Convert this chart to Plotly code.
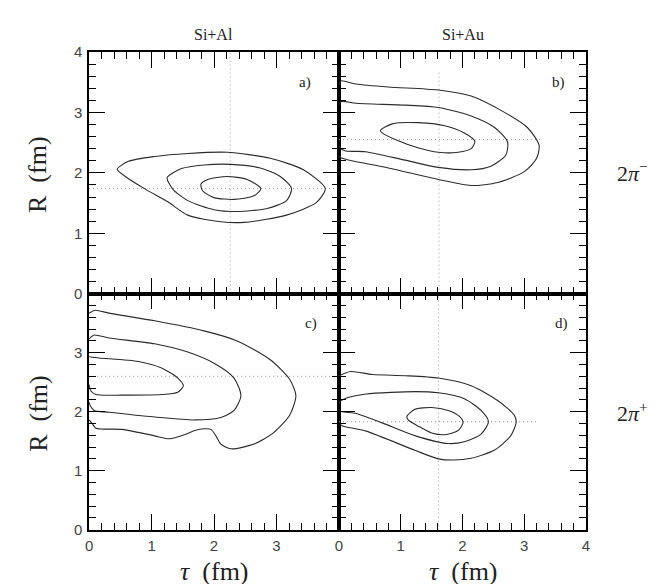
import plotly.graph_objects as go

# ---------------- data ----------------
# panel a : Si+Al, 2pi-
a_outer_tau = [0.45, 0.58, 0.90, 1.26, 1.58, 2.11, 2.48, 3.16, 3.64, 3.78, 3.43, 2.90, 2.21, 1.58, 1.05, 0.63, 0.45]
a_outer_R   = [2.06, 1.94, 1.73, 1.52, 1.30, 1.19, 1.18, 1.30, 1.51, 1.74, 2.05, 2.24, 2.34, 2.32, 2.27, 2.19, 2.06]
a_mid_tau = [1.25, 1.34, 1.58, 2.00, 2.37, 2.85, 3.16, 3.24, 3.06, 2.74, 2.27, 1.84, 1.48, 1.25]
a_mid_R   = [1.92, 1.73, 1.54, 1.39, 1.36, 1.41, 1.54, 1.74, 1.94, 2.08, 2.14, 2.13, 2.07, 1.92]
a_in_tau = [1.79, 1.82, 2.00, 2.32, 2.64, 2.75, 2.53, 2.21, 1.90, 1.79]
a_in_R   = [1.81, 1.70, 1.59, 1.56, 1.62, 1.74, 1.89, 1.94, 1.89, 1.81]

# panel b : Si+Au, 2pi-
b_outer_tau = [0.00, 0.03, 0.27, 0.80, 1.61, 2.14, 2.68, 3.05, 3.24, 3.20, 3.00, 2.57, 2.14, 1.61, 0.80, 0.21, 0.05, 0.00]
b_outer_R   = [3.45, 3.52, 3.47, 3.42, 3.37, 3.27, 3.00, 2.75, 2.46, 2.24, 2.02, 1.84, 1.79, 1.89, 2.08, 2.20, 2.24, 2.27]
b_mid_tau = [0.00, 0.04, 0.27, 1.07, 1.61, 2.14, 2.52, 2.73, 2.70, 2.46, 2.14, 1.61, 1.07, 0.43, 0.11, 0.03, 0.00]
b_mid_R   = [3.12, 3.18, 3.15, 3.12, 3.08, 2.94, 2.75, 2.51, 2.29, 2.11, 2.05, 2.09, 2.21, 2.35, 2.36, 2.40, 2.45]
b_in_tau = [0.67, 0.70, 0.91, 1.29, 1.61, 1.93, 2.14, 2.20, 2.03, 1.71, 1.29, 0.86, 0.67]
b_in_R   = [2.70, 2.66, 2.55, 2.41, 2.34, 2.34, 2.40, 2.52, 2.66, 2.78, 2.83, 2.81, 2.70]

# panel c : Si+Al, 2pi+
c_outer_tau = [0.00, 0.10, 0.32, 1.05, 1.84, 2.37, 2.90, 3.21, 3.31, 3.21, 2.95, 2.64, 2.27, 2.11, 2.03, 1.95,
               1.84, 1.69, 1.53, 1.29, 1.05, 0.53, 0.11, 0.05, 0.00]
c_outer_R   = [3.67, 3.72, 3.67, 3.54, 3.37, 3.20, 2.88, 2.55, 2.27, 1.94, 1.64, 1.45, 1.37, 1.45, 1.59, 1.70,
               1.71, 1.68, 1.61, 1.54, 1.59, 1.70, 1.72, 1.80, 1.86]
c_mid_tau = [0.00, 0.08, 0.32, 1.05, 1.58, 2.00, 2.32, 2.43, 2.32, 2.11, 1.69, 1.05, 0.32, 0.08, 0.02, 0.00]
c_mid_R   = [3.23, 3.30, 3.25, 3.15, 3.01, 2.82, 2.57, 2.27, 2.02, 1.90, 1.86, 1.91, 1.99, 2.02, 2.10, 2.16]
c_in_tau = [0.00, 0.16, 0.79, 1.16, 1.42, 1.51, 1.42, 1.16, 0.53, 0.11, 0.03, 0.00]
c_in_R   = [2.93, 2.91, 2.85, 2.74, 2.57, 2.44, 2.33, 2.29, 2.28, 2.29, 2.35, 2.46]

# panel d : Si+Au, 2pi+
d_outer_tau = [0.00, 0.19, 0.54, 1.07, 1.61, 2.14, 2.57, 2.84, 2.87, 2.78, 2.52, 2.14, 1.85, 1.61, 1.24, 0.44, 0.12, 0.05, 0.00]
d_outer_R   = [2.61, 2.68, 2.63, 2.61, 2.57, 2.44, 2.19, 1.94, 1.82, 1.59, 1.35, 1.21, 1.18, 1.20, 1.34, 1.67, 1.74, 1.76, 1.81]
d_mid_tau = [0.00, 0.01, 0.12, 0.44, 1.24, 1.61, 2.03, 2.30, 2.42, 2.30, 2.03, 1.77, 1.24, 0.70, 0.28, 0.00]
d_mid_R   = [2.02, 2.16, 2.23, 2.30, 2.34, 2.32, 2.22, 2.02, 1.83, 1.62, 1.49, 1.46, 1.59, 1.81, 1.97, 2.02]
d_in_tau = [1.10, 1.12, 1.29, 1.50, 1.71, 1.93, 2.01, 1.95, 1.77, 1.50, 1.23, 1.10]
d_in_R   = [1.92, 1.86, 1.75, 1.64, 1.61, 1.68, 1.82, 1.92, 2.02, 2.07, 2.04, 1.92]

# best-fit cross-hairs: (tau, R) and extents of the dotted lines
best_tau = [2.26, 1.62, None, 1.61]
best_R   = [1.74, 2.55, 2.60, 1.83]
hline_tau_span = [[0.0, 4.0], [0.0, 3.3], [0.0, 4.0], [0.0, 3.2]]
vline_R_span   = [[0.0, 4.0], [0.0, 3.7], None, [0.0, 4.0]]

col_titles = ["Si+Al", "Si+Au"]
row_titles = ["2<i>π</i><sup>−</sup>", "2<i>π</i><sup>+</sup>"]
panel_labels = ["a)", "b)", "c)", "d)"]

# ---------------- figure ----------------
W, H = 663, 584
def fx(px): return px / W
def fy(py): return 1 - py / H

xdom = [[fx(78), fx(331)], [fx(331), fx(581)]]
ydom = [[fy(285), fy(36)], [fy(528), fy(285)]]

fig = go.Figure()
panels = [
    [(a_outer_tau, a_outer_R), (a_mid_tau, a_mid_R), (a_in_tau, a_in_R)],
    [(b_outer_tau, b_outer_R), (b_mid_tau, b_mid_R), (b_in_tau, b_in_R)],
    [(c_outer_tau, c_outer_R), (c_mid_tau, c_mid_R), (c_in_tau, c_in_R)],
    [(d_outer_tau, d_outer_R), (d_mid_tau, d_mid_R), (d_in_tau, d_in_R)],
]
line_col = "#2b2b2b"
dot_col = "#9a9a9a"
for i, curves in enumerate(panels):
    xa = "x" if i == 0 else f"x{i+1}"
    ya = "y" if i == 0 else f"y{i+1}"
    hs = hline_tau_span[i]
    fig.add_trace(go.Scatter(x=hs, y=[best_R[i], best_R[i]], mode="lines",
                             line=dict(color=dot_col, width=1, dash="1px,3px"),
                             xaxis=xa, yaxis=ya, showlegend=False, hoverinfo="skip"))
    if best_tau[i] is not None:
        vs = vline_R_span[i]
        fig.add_trace(go.Scatter(x=[best_tau[i], best_tau[i]], y=vs, mode="lines",
                                 line=dict(color=dot_col, width=1, dash="1px,3px"),
                                 xaxis=xa, yaxis=ya, showlegend=False, hoverinfo="skip"))
    for t, r in curves:
        fig.add_trace(go.Scatter(x=t, y=r, mode="lines",
                                 line=dict(color=line_col, width=1.1, shape="spline", smoothing=0.7),
                                 xaxis=xa, yaxis=ya, showlegend=False, hoverinfo="skip"))

tickfont = dict(family="Liberation Sans, Arial, sans-serif", size=15, color="#444")
def axis(domain, anchor, show, hide4=False):
    d = dict(domain=domain, anchor=anchor, range=[0, 4], showgrid=False, zeroline=False,
             showline=True, linecolor="black", linewidth=1.5, mirror="ticks",
             ticks="inside", ticklen=16, tickwidth=1, tickcolor="black",
             tickmode="linear", tick0=0, dtick=1,
             showticklabels=show,
             minor=dict(ticks="inside", ticklen=7, tickwidth=1, tickcolor="black",
                        tick0=0, dtick=0.2, showgrid=False),
             tickfont=tickfont, ticklabelstandoff=2)
    if hide4:
        d["labelalias"] = {"4": " "}
    return d

fig.update_layout(
    width=W, height=H, margin=dict(l=0, r=0, t=0, b=0),
    paper_bgcolor="white", plot_bgcolor="rgba(0,0,0,0)",
    xaxis=axis(xdom[0], "y", False),
    yaxis=axis(ydom[0], "x", True),
    xaxis2=axis(xdom[1], "y2", False),
    yaxis2=axis(ydom[0], "x2", False),
    xaxis3=axis(xdom[0], "y3", True, hide4=True),
    yaxis3=axis(ydom[1], "x3", True, hide4=True),
    xaxis4=axis(xdom[1], "y4", True),
    yaxis4=axis(ydom[1], "x4", False),
)

serif = "Liberation Serif, Times New Roman, serif"
ann = []
ann.append(dict(x=fx(204), y=fy(18), text=col_titles[0]))
ann.append(dict(x=fx(457), y=fy(18), text=col_titles[1]))
for a in ann:
    a.update(xref="paper", yref="paper", showarrow=False, xanchor="center", yanchor="middle",
             font=dict(family=serif, size=16, color="#222"))
big = dict(family=serif, size=26, color="#222")
ann += [
    dict(x=fx(26), y=fy(162), text="R  (fm)", textangle=-90, font=big),
    dict(x=fx(26), y=fy(408), text="R  (fm)", textangle=-90, font=big),
    dict(x=fx(205), y=fy(571), text="<i>τ</i>  (fm)", font=big),
    dict(x=fx(457), y=fy(571), text="<i>τ</i>  (fm)", font=big),
    dict(x=fx(628), y=fy(160), text=row_titles[0], font=dict(family=serif, size=22, color="#222")),
    dict(x=fx(628), y=fy(407), text=row_titles[1], font=dict(family=serif, size=22, color="#222")),
]
for a in ann[2:]:
    a.update(xref="paper", yref="paper", showarrow=False, xanchor="center", yanchor="middle")

lab_pos = [(3.45, 3.5), (3.55, 3.5), (3.55, 3.5), (3.6, 3.5)]
for i, (tx, ry) in enumerate(lab_pos):
    xa = "x" if i == 0 else f"x{i+1}"
    ya = "y" if i == 0 else f"y{i+1}"
    ann.append(dict(x=tx, y=ry, xref=xa, yref=ya, text=panel_labels[i], showarrow=False,
                    xanchor="center", yanchor="middle",
                    font=dict(family=serif, size=15, color="#222")))
fig.update_layout(annotations=ann)

fig.write_html("out.html")
